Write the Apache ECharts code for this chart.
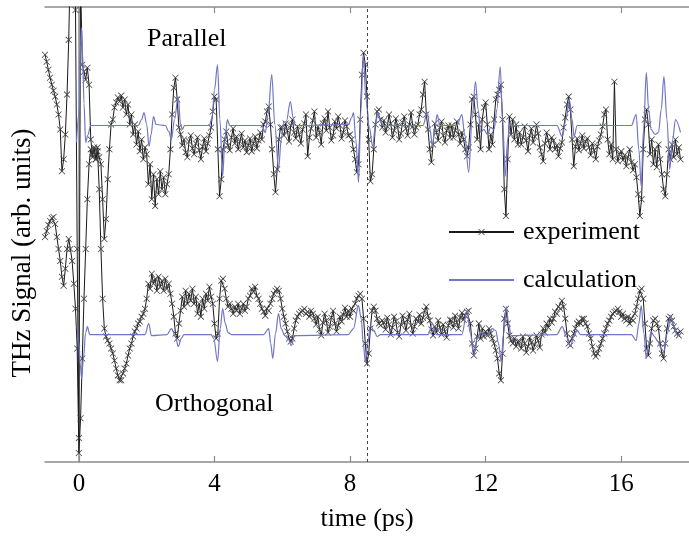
<!DOCTYPE html>
<html>
<head>
<meta charset="utf-8">
<script src="https://cdn.jsdelivr.net/npm/echarts@6/dist/echarts.min.js"></script>
<style>
  html, body { margin: 0; padding: 0; background: #fff; }
  #chart { width: 689px; height: 537px; }
</style>
</head>
<body>
<div id="chart"></div>
<script>
// Sampling grid of the measured traces (ps)
const T0 = -1;
const DT = 0.05;

// Measured THz signal, parallel polarisation (arb. units), one value per DT
const parallelExp = [
  4.09, 4.02, 3.94, 3.86, 3.79, 3.73, 3.67, 3.59, 3.49, 3.34, 2.92, 3.04, 3.29, 3.69, 4.24, 5.04, 5.44, 5.34, 4.54, 2.14,
  0.24, 4.84, 3.99, 3.92, 3.84, 3.96, 3.79, 3.24, 3.09, 3.14, 3.04, 3.16, 3.06, 2.99, 2.64, 2.24, 2.44, 2.84, 3.14, 3.39,
  3.44, 3.56, 3.61, 3.66, 3.62, 3.68, 3.56, 3.64, 3.49, 3.59, 3.39, 3.49, 3.29, 3.39, 3.19, 3.32, 3.12, 3.24, 3.04, 3.16,
  3.09, 2.79, 2.99, 2.64, 2.89, 2.57, 2.84, 2.69, 2.92, 2.74, 2.86, 2.69, 2.79, 2.89, 3.14, 3.49, 3.76, 3.86, 3.64, 3.36,
  3.29, 3.18, 3.24, 3.11, 3.06, 3.22, 3.28, 3.15, 3.09, 3.20, 3.26, 3.13, 3.04, 3.17, 3.25, 3.12, 3.20, 3.28, 3.36, 3.52,
  3.67, 3.64, 3.14, 2.67, 2.84, 3.14, 3.24, 3.32, 3.18, 3.13, 3.26, 3.35, 3.20, 3.27, 3.14, 3.22, 3.30, 3.16, 3.23, 3.11,
  3.18, 3.25, 3.12, 3.20, 3.27, 3.15, 3.23, 3.31, 3.24, 3.39, 3.42, 3.52, 3.57, 3.39, 3.14, 2.89, 2.71, 2.94, 3.24, 3.36,
  3.36, 3.28, 3.40, 3.33, 3.22, 3.38, 3.44, 3.31, 3.25, 3.37, 3.29, 3.20, 3.34, 3.40, 3.49, 3.07, 3.26, 3.35, 3.43, 3.52,
  3.26, 3.37, 3.31, 3.19, 3.40, 3.45, 3.33, 3.52, 3.36, 3.23, 3.28, 3.42, 3.35, 3.47, 3.38, 3.25, 3.31, 3.43, 3.37, 3.28,
  3.29, 3.24, 3.14, 3.04, 2.91, 2.99, 3.44, 3.89, 4.11, 3.99, 3.67, 3.24, 2.82, 2.89, 3.14, 3.39, 3.52, 3.54, 3.44, 3.36,
  3.43, 3.31, 3.37, 3.49, 3.40, 3.26, 3.33, 3.45, 3.38, 3.24, 3.30, 3.41, 3.47, 3.35, 3.28, 3.39, 3.51, 3.37, 3.29, 3.36,
  3.39, 3.49, 3.54, 3.69, 3.82, 3.49, 3.34, 3.14, 3.01, 3.19, 3.40, 3.31, 3.23, 3.36, 3.42, 3.28, 3.21, 3.33, 3.38, 3.26,
  3.38, 3.26, 3.33, 3.42, 3.29, 3.20, 3.31, 3.24, 3.14, 3.07, 3.16, 3.39, 3.64, 3.67, 3.49, 3.24, 3.39, 3.14, 3.44, 3.56,
  3.61, 3.39, 3.14, 3.29, 3.19, 3.44, 3.64, 3.69, 3.74, 3.79, 3.44, 2.74, 2.47, 3.04, 3.47, 3.29, 3.44, 3.24, 3.39, 3.19,
  3.31, 3.19, 3.26, 3.37, 3.23, 3.12, 3.28, 3.35, 3.21, 3.27, 3.39, 3.30, 3.16, 3.09, 3.02, 3.20, 3.31, 3.23, 3.14, 3.26,
  3.23, 3.14, 3.18, 3.07, 3.15, 3.21, 3.36, 3.46, 3.59, 3.67, 3.54, 3.24, 2.97, 3.17, 3.25, 3.13, 3.20, 3.28, 3.15, 3.22,
  3.25, 3.16, 3.08, 3.20, 3.13, 3.04, 3.17, 3.23, 3.29, 3.37, 3.49, 3.54, 3.24, 3.09, 3.19, 3.04, 3.82, 3.14, 3.02, 3.09,
  3.12, 3.03, 3.08, 2.97, 3.06, 3.14, 3.01, 2.93, 2.99, 2.86, 2.69, 2.47, 2.64, 3.14, 3.44, 3.54, 3.39, 3.09, 3.24, 2.99,
  3.14, 2.96, 3.19, 3.04, 2.89, 2.74, 2.67, 2.89, 3.14, 3.04, 3.19, 3.06, 3.24, 3.09, 3.16, 3.04
];

// Measured THz signal, orthogonal polarisation (arb. units), one value per DT
const orthogonalExp = [
  2.26, 2.32, 2.38, 2.42, 2.45, 2.46, 2.39, 2.26, 2.14, 2.02, 1.86, 1.77, 1.94, 2.14, 2.24, 2.14, 2.02, 1.79, 1.54, 1.14,
  0.09, 0.44, 1.04, 1.64, 2.14, 2.64, 2.99, 3.14, 3.06, 3.16, 3.04, 3.12, 2.74, 2.14, 1.64, 1.34, 1.26, 1.22, 1.19, 1.14,
  1.09, 1.02, 0.94, 0.87, 0.82, 0.82, 0.89, 0.94, 0.99, 1.07, 1.14, 1.19, 1.26, 1.31, 1.34, 1.39, 1.41, 1.46, 1.49, 1.54,
  1.64, 1.79, 1.74, 1.89, 1.79, 1.84, 1.72, 1.86, 1.76, 1.82, 1.72, 1.84, 1.74, 1.79, 1.69, 1.59, 1.46, 1.29, 1.24, 1.39,
  1.52, 1.66, 1.56, 1.72, 1.59, 1.69, 1.62, 1.74, 1.59, 1.66, 1.49, 1.59, 1.46, 1.64, 1.54, 1.69, 1.62, 1.76, 1.66, 1.59,
  1.39, 1.24, 1.29, 1.64, 1.82, 1.84, 1.74, 1.64, 1.56, 1.59, 1.54, 1.49, 1.56, 1.52, 1.59, 1.49, 1.54, 1.59, 1.52, 1.56,
  1.64, 1.67, 1.74, 1.71, 1.76, 1.67, 1.64, 1.59, 1.54, 1.51, 1.47, 1.54, 1.52, 1.59, 1.64, 1.69, 1.72, 1.74, 1.72, 1.64,
  1.54, 1.46, 1.39, 1.31, 1.24, 1.21, 1.24, 1.34, 1.42, 1.46, 1.49, 1.51, 1.52, 1.54, 1.49, 1.51, 1.46, 1.52, 1.49, 1.44,
  1.38, 1.46, 1.33, 1.27, 1.40, 1.49, 1.42, 1.30, 1.36, 1.45, 1.52, 1.39, 1.31, 1.37, 1.46, 1.41, 1.48, 1.55, 1.46, 1.52,
  1.46, 1.54, 1.52, 1.59, 1.64, 1.67, 1.69, 1.64, 1.44, 1.19, 0.99, 1.09, 1.34, 1.52, 1.56, 1.52, 1.44, 1.39, 1.37, 1.42,
  1.40, 1.33, 1.45, 1.38, 1.28, 1.35, 1.46, 1.41, 1.30, 1.26, 1.38, 1.47, 1.40, 1.32, 1.43, 1.49, 1.37, 1.29, 1.36, 1.44,
  1.41, 1.48, 1.39, 1.45, 1.52, 1.56, 1.47, 1.42, 1.33, 1.27, 1.36, 1.30, 1.42, 1.35, 1.28, 1.38, 1.31, 1.25, 1.37, 1.43,
  1.42, 1.35, 1.47, 1.40, 1.34, 1.45, 1.50, 1.43, 1.47, 1.51, 1.52, 1.39, 1.19, 1.07, 1.14, 1.26, 1.39, 1.24, 1.34, 1.26,
  1.31, 1.27, 1.34, 1.29, 1.24, 1.19, 1.12, 1.04, 0.89, 0.82, 1.09, 1.44, 1.54, 1.39, 1.27, 1.22, 1.19, 1.24, 1.16, 1.21,
  1.21, 1.14, 1.26, 1.19, 1.10, 1.16, 1.25, 1.20, 1.12, 1.18, 1.27, 1.22, 1.15, 1.28, 1.34, 1.30, 1.39, 1.35, 1.44, 1.40,
  1.44, 1.51, 1.49, 1.56, 1.54, 1.62, 1.56, 1.44, 1.29, 1.19, 1.17, 1.24, 1.29, 1.34, 1.39, 1.41, 1.39, 1.44, 1.44, 1.39,
  1.36, 1.29, 1.24, 1.16, 1.09, 1.06, 1.09, 1.14, 1.19, 1.24, 1.29, 1.34, 1.39, 1.42, 1.46, 1.49, 1.51, 1.52, 1.54, 1.51,
  1.46, 1.49, 1.44, 1.42, 1.46, 1.39, 1.44, 1.42, 1.49, 1.56, 1.64, 1.72, 1.74, 1.64, 1.39, 1.14, 1.07, 1.19, 1.34, 1.42,
  1.44, 1.39, 1.34, 1.19, 1.09, 1.04, 1.19, 1.34, 1.44, 1.46, 1.42, 1.36, 1.32, 1.29, 1.27, 1.31
];

// Calculated waveforms: [time (ps), signal (arb. units)]
const parallelCalc = [
  [-0.07, 3.21], [0.0, 3.5], [0.05, 4.2], [0.08, 4.36], [0.11, 4.1], [0.15, 3.6], [0.2, 3.21], [0.26, 3.28], [0.35, 3.38],
  [1.75, 3.38], [1.85, 3.44], [1.92, 3.51], [2.0, 3.39], [2.07, 3.17], [2.13, 3.29], [2.2, 3.47], [2.28, 3.39],
  [2.55, 3.38], [2.65, 3.32], [2.73, 3.24], [2.82, 3.44], [2.93, 3.67], [3.0, 3.39], [3.05, 3.34], [3.12, 3.38],
  [3.85, 3.38], [3.93, 3.46], [4.0, 3.74], [4.09, 3.99], [4.16, 3.44], [4.24, 2.87], [4.31, 3.24], [4.38, 3.44], [4.45, 3.38],
  [5.4, 3.38], [5.5, 3.31], [5.58, 3.49], [5.69, 3.89], [5.78, 3.39], [5.89, 2.94], [5.97, 3.24], [6.04, 3.41],
  [6.12, 3.42], [6.24, 3.62], [6.32, 3.46], [6.38, 3.38],
  [7.95, 3.39], [8.05, 3.46], [8.1, 3.51], [8.17, 3.24], [8.25, 2.81], [8.32, 3.54], [8.39, 4.09], [8.47, 3.64],
  [8.56, 3.37], [8.67, 3.17], [8.75, 3.39], [8.82, 3.51], [8.9, 3.42], [8.97, 3.38],
  [10.15, 3.38], [10.28, 3.51], [10.36, 3.34], [10.43, 3.17], [10.5, 3.36], [10.57, 3.49], [10.65, 3.38],
  [11.15, 3.38], [11.3, 3.49], [11.38, 3.29], [11.5, 2.91], [11.6, 3.44], [11.7, 3.82], [11.78, 3.54], [11.85, 3.31],
  [11.95, 3.34], [12.05, 3.29], [12.15, 3.36], [12.25, 3.34], [12.33, 3.54], [12.43, 3.97], [12.5, 3.44], [12.58, 2.87],
  [12.65, 3.24], [12.72, 3.41], [12.8, 3.38],
  [14.1, 3.38], [14.26, 3.27], [14.37, 3.44], [14.47, 3.64], [14.55, 3.44], [14.61, 3.27], [14.7, 3.38],
  [16.3, 3.38], [16.44, 3.49], [16.52, 3.14], [16.59, 2.77], [16.66, 3.34], [16.74, 3.91], [16.81, 3.54], [16.88, 3.34],
  [17.0, 3.29], [17.1, 3.31], [17.18, 3.54], [17.26, 3.87], [17.35, 3.44], [17.43, 2.94], [17.52, 3.24], [17.6, 3.44], [17.75, 3.31]
];

const orthogonalCalc = [
  [-0.05, 1.37], [0.0, 1.2], [0.04, 0.98], [0.08, 0.84], [0.13, 1.02], [0.2, 1.3], [0.25, 1.36], [0.32, 1.28],
  [1.95, 1.28], [2.06, 1.39], [2.14, 1.27],
  [2.6, 1.28], [2.73, 1.34], [2.85, 1.26], [2.93, 1.16], [3.02, 1.24], [3.1, 1.28],
  [3.9, 1.28], [3.98, 1.24], [4.09, 1.01], [4.17, 1.34], [4.24, 1.54], [4.32, 1.39], [4.4, 1.30], [4.5, 1.28],
  [5.45, 1.28], [5.6, 1.34], [5.66, 1.19], [5.72, 1.04], [5.8, 1.29], [5.89, 1.49], [5.97, 1.34], [6.07, 1.27],
  [6.17, 1.24], [6.27, 1.17], [6.36, 1.27],
  [7.95, 1.28], [8.1, 1.34], [8.25, 1.57], [8.33, 1.44], [8.39, 1.19], [8.45, 1.01], [8.52, 1.19], [8.6, 1.37],
  [8.7, 1.32], [8.8, 1.26], [8.9, 1.28],
  [10.3, 1.28], [10.43, 1.39], [10.55, 1.28],
  [11.3, 1.28], [11.45, 1.52], [11.55, 1.29], [11.65, 1.07], [11.75, 1.24], [11.85, 1.31], [11.95, 1.28],
  [12.03, 1.27], [12.2, 1.34], [12.3, 1.32], [12.38, 1.19], [12.46, 1.01], [12.53, 1.29], [12.61, 1.56], [12.68, 1.39], [12.75, 1.27],
  [14.1, 1.28], [14.26, 1.36], [14.38, 1.26], [14.5, 1.16], [14.6, 1.26], [14.7, 1.32], [14.8, 1.28],
  [16.3, 1.28], [16.44, 1.22], [16.52, 1.39], [16.59, 1.57], [16.67, 1.29], [16.74, 1.04], [16.81, 1.19], [16.88, 1.31],
  [16.98, 1.26], [17.08, 1.21], [17.18, 1.14], [17.26, 1.11], [17.36, 1.29], [17.46, 1.47], [17.55, 1.36], [17.66, 1.27], [17.75, 1.28]
];

// Axis ticks and the reference time marker
const timeTicks = [0, 4, 8, 12, 16];
const markerTime = 8.5;
const timeRange = [-1, 18];
const signalRange = [0, 4.57];

// Text
const labels = {
  xName: 'time (ps)',
  yName: 'THz Signal (arb. units)',
  exp: 'experiment',
  calc: 'calculation',
  upper: 'Parallel',
  lower: 'Orthogonal'
};

const SERIF = '"Liberation Serif", "Times New Roman", serif';
const AXIS_GREY = '#8c8c8c';
const EXP_LINE = '#1a1a1a';
const EXP_MARK = '#3c3c3c';
const CALC_BLUE = '#7276c8';
const CROSS = 'path://M0,0.8L0.8,0L5,4.2L9.2,0L10,0.8L5.8,5L10,9.2L9.2,10L5,5.8L0.8,10L0,9.2L4.2,5Z';

function sampled(values) {
  return values.map((v, i) => [Math.round((T0 + i * DT) * 100) / 100, v]);
}

function expSeries(values, withMarker) {
  const s = {
    name: labels.exp,
    type: 'line',
    data: sampled(values),
    symbol: CROSS,
    symbolSize: 6.5,
    showSymbol: true,
    showAllSymbol: true,
    clip: true,
    lineStyle: { color: EXP_LINE, width: 1 },
    itemStyle: { color: EXP_MARK },
    emphasis: { disabled: true },
    z: 2
  };
  if (withMarker) {
    s.markLine = {
      silent: true,
      symbol: 'none',
      label: { show: false },
      lineStyle: { color: '#444', width: 1, type: [3, 3] },
      data: [{ xAxis: markerTime }]
    };
  }
  return s;
}

function calcSeries(points) {
  return {
    name: labels.calc,
    type: 'line',
    data: points,
    symbol: 'none',
    smooth: 0.35,
    smoothMonotone: 'x',
    clip: true,
    lineStyle: { color: CALC_BLUE, width: 1.2 },
    itemStyle: { color: CALC_BLUE },
    emphasis: { disabled: true },
    z: 3
  };
}

const baseX = {
  type: 'value',
  min: timeRange[0],
  max: timeRange[1],
  axisLine: { show: true, onZero: false, lineStyle: { color: AXIS_GREY, width: 1.5 } },
  axisTick: { show: true, inside: true, length: 6, customValues: timeTicks, lineStyle: { color: AXIS_GREY, width: 1.2 } },
  splitLine: { show: false }
};

const chart = echarts.init(document.getElementById('chart'), null, { renderer: 'canvas' });
chart.setOption({
  animation: false,
  backgroundColor: '#ffffff',
  grid: { left: 45, top: 7, width: 654, height: 457, containLabel: false },
  xAxis: [
    Object.assign({}, baseX, {
      position: 'bottom',
      name: labels.xName,
      nameLocation: 'middle',
      nameGap: 44,
      nameTextStyle: { fontFamily: SERIF, fontSize: 26, color: '#000' },
      axisLabel: { show: true, customValues: timeTicks, margin: 10, fontFamily: SERIF, fontSize: 25, color: '#000' }
    }),
    Object.assign({}, baseX, {
      position: 'top',
      axisLabel: { show: false }
    })
  ],
  yAxis: {
    type: 'value',
    min: signalRange[0],
    max: signalRange[1],
    axisLine: { show: true, lineStyle: { color: AXIS_GREY, width: 1.5 } },
    axisTick: { show: false },
    axisLabel: { show: false },
    splitLine: { show: false }
  },
  legend: {
    data: [
      { name: labels.exp },
      { name: labels.calc, itemStyle: { opacity: 0 } }
    ],
    orient: 'vertical',
    left: 443,
    top: 214,
    itemWidth: 65,
    itemHeight: 8,
    itemGap: 22,
    selectedMode: false,
    textStyle: { fontFamily: SERIF, fontSize: 26, color: '#000', padding: [0, 0, 0, 4] }
  },
  graphic: [
    // vertical axis title, reading bottom to top
    { type: 'text', x: 23, y: 253, rotation: Math.PI / 2, silent: true,
      style: { text: labels.yName, font: '27px ' + SERIF, fill: '#000', align: 'center', verticalAlign: 'middle' } },
    { type: 'text', left: 147, top: 26, silent: true,
      style: { text: labels.upper, font: '26px ' + SERIF, fill: '#000' } },
    { type: 'text', left: 155, top: 391, silent: true,
      style: { text: labels.lower, font: '26px ' + SERIF, fill: '#000' } }
  ],
  series: [
    expSeries(parallelExp, true),
    expSeries(orthogonalExp, false),
    calcSeries(parallelCalc),
    calcSeries(orthogonalCalc)
  ]
});
</script>
</body>
</html>
